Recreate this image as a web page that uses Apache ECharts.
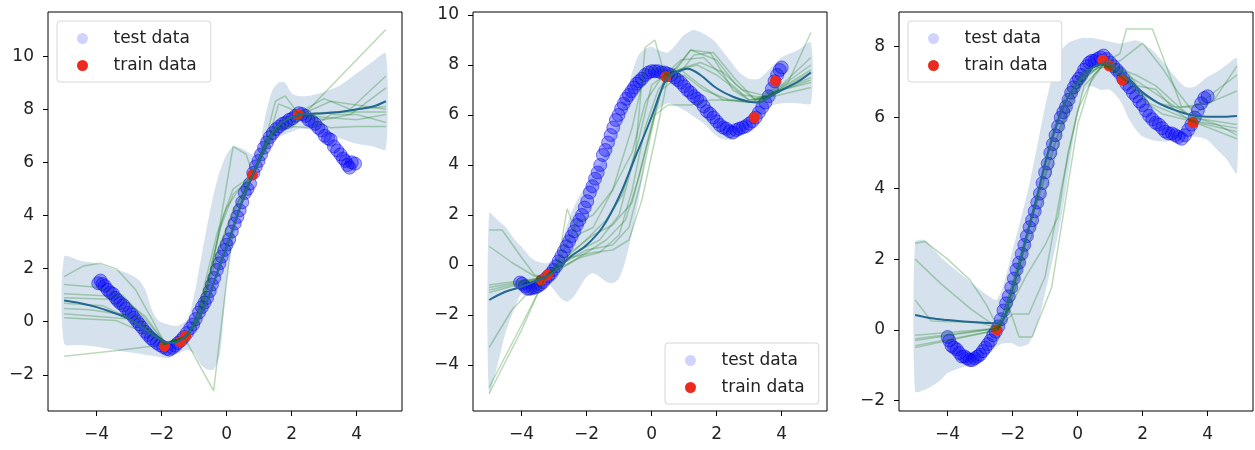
<!DOCTYPE html>
<html>
<head>
<meta charset="utf-8">
<script src="https://cdn.jsdelivr.net/npm/echarts@6/dist/echarts.min.js"></script>
<style>
html, body { margin: 0; padding: 0; background: #fff; }
#main { width: 1255px; height: 450px; }
</style>
</head>
<body>
<div id="main"></div>
<script>
// ---- panel 1 ----
var test1 = [[-3.95,1.45],[-3.88,1.55],[-3.82,1.42],[-3.75,1.35],[-3.66,1.2],[-3.58,1.1],[-3.5,1.05],[-3.42,0.9],[-3.35,0.8],[-3.27,0.7],[-3.18,0.62],[-3.1,0.5],[-3.0,0.35],[-2.92,0.28],[-2.85,0.15],[-2.76,0.02],[-2.68,-0.1],[-2.6,-0.22],[-2.5,-0.38],[-2.42,-0.5],[-2.33,-0.62],[-2.25,-0.7],[-2.15,-0.8],[-2.05,-0.88],[-1.95,-0.95],[-1.85,-1.02],[-1.76,-1.05],[-1.67,-0.98],[-1.58,-0.9],[-1.5,-0.8],[-1.4,-0.7],[-1.32,-0.58],[-1.22,-0.42],[-1.12,-0.25],[-1.03,-0.1],[-0.95,0.1],[-0.85,0.35],[-0.76,0.55],[-0.68,0.72],[-0.6,0.9],[-0.52,1.15],[-0.45,1.4],[-0.38,1.65],[-0.3,1.95],[-0.22,2.2],[-0.15,2.45],[-0.07,2.7],[0.0,2.9],[0.08,3.1],[0.16,3.4],[0.25,3.7],[0.33,3.95],[0.4,4.2],[0.48,4.5],[0.56,4.85],[0.64,5.0],[0.72,5.2],[0.82,5.6],[0.9,5.85],[0.98,6.05],[1.06,6.3],[1.15,6.55],[1.24,6.75],[1.33,6.95],[1.42,7.1],[1.52,7.25],[1.62,7.35],[1.72,7.45],[1.82,7.5],[1.92,7.6],[2.02,7.65],[2.12,7.75],[2.22,7.85],[2.32,7.82],[2.42,7.75],[2.52,7.6],[2.62,7.55],[2.72,7.45],[2.82,7.3],[2.92,7.2],[3.02,7.0],[3.12,6.9],[3.2,6.85],[3.3,6.6],[3.4,6.45],[3.5,6.3],[3.58,6.15],[3.66,6.05],[3.72,5.9],[3.78,5.8],[3.85,6.0],[3.95,5.95]];
var train1 = [[-1.91,-0.92],[-1.42,-0.75],[-1.26,-0.54],[0.79,5.52],[2.2,7.8]];
var bandX1 = [-5,-4.5,-4,-3.5,-3,-2.7,-2.5,-2.3,-2.1,-1.8,-1.5,-1.2,-1,-0.8,-0.6,-0.4,-0.2,0,0.2,0.5,0.8,1,1.2,1.4,1.6,1.8,2,2.2,2.5,3,3.5,4,4.5,4.9];
var upper1 = [2.45,2.3,2.2,2.0,1.8,1.57,1.2,0.45,0.05,-0.1,-0.15,0.1,1.0,2.3,3.6,4.8,5.7,6.3,6.6,6.5,6.3,6.6,7.8,8.7,9.0,9.0,8.6,8.5,8.5,8.65,8.9,9.35,9.8,10.1];
var lower1 = [-0.82,-0.88,-0.94,-1.05,-1.15,-1.2,-1.25,-1.28,-1.32,-1.38,-1.2,-1.05,-1.2,-1.6,-1.8,-1.8,-1.2,1.5,3.1,4.7,5.5,6.1,6.5,6.8,6.95,7.05,7.15,7.25,7.25,7.1,6.9,6.7,6.6,6.5];
var mean1 = [[-5,0.8],[-4.5,0.7],[-4,0.55],[-3.5,0.35],[-3,0.1],[-2.5,-0.3],[-2,-0.7],[-1.8,-0.8],[-1.5,-0.75],[-1.2,-0.45],[-1,-0.1],[-0.7,0.5],[-0.5,1.1],[-0.3,1.8],[0,2.8],[0.3,3.9],[0.5,4.6],[0.8,5.5],[1,6.1],[1.3,6.9],[1.6,7.4],[2,7.7],[2.3,7.8],[3,7.85],[3.5,7.9],[4,8.0],[4.5,8.1],[4.9,8.3]];
var samples1 = [
  [[-5,-1.3],[-3.5,-1.1],[-2.5,-0.95],[-1.9,-0.85],[-1.5,-0.7],[-1.2,-0.5],[-0.9,0.3],[-0.6,1.8],[-0.3,3.3],[0,4.3],[0.4,5.0],[0.8,5.5],[1.2,6.7],[1.6,7.4],[2.0,7.7],[2.3,7.8],[3,7.7],[4,7.6],[4.9,7.8]],
  [[-5,1.7],[-4.4,2.1],[-3.9,2.2],[-3.4,2.0],[-2.8,1.2],[-2.3,0.1],[-1.9,-0.8],[-1.5,-0.75],[-1.2,-0.5],[-0.8,0.3],[-0.4,2.0],[0,3.5],[0.4,4.6],[0.8,5.5],[1.1,6.4],[1.5,8.3],[1.8,8.5],[2.2,7.85],[3,8.4],[3.8,8.0],[4.9,9.25]],
  [[-5,1.4],[-4,1.3],[-3.2,1.0],[-2.5,0.1],[-1.9,-0.8],[-1.4,-0.65],[-1.1,-0.3],[-0.7,1.0],[-0.4,2.5],[-0.1,4.0],[0.2,5.0],[0.8,5.5],[1.2,6.5],[1.6,8.2],[2.0,8.0],[2.3,7.8],[3.2,7.3],[4,7.35],[4.9,7.35]],
  [[-5,1.05],[-3.3,0.95],[-2.5,0.2],[-1.9,-0.8],[-1.2,-0.55],[-0.8,0.2],[-0.5,1.8],[-0.2,3.5],[0.2,4.8],[0.8,5.5],[1.3,6.9],[1.8,7.6],[2.3,7.8],[3.0,7.6],[3.8,7.8],[4.9,8.8]],
  [[-5,0.9],[-3.6,0.85],[-2.6,0.0],[-1.9,-0.85],[-1.3,-0.6],[-0.4,-2.6],[-0.1,0.5],[0.2,3.5],[0.5,4.8],[0.8,5.5],[1.2,6.8],[1.7,7.6],[2.3,7.8],[3.2,7.9],[4.9,7.9]],
  [[-5,0.5],[-4.2,0.45],[-2.8,0.2],[-1.9,-0.8],[-1.3,-0.6],[-0.9,0.0],[-0.6,1.3],[-0.3,3.0],[0.2,6.6],[0.6,6.3],[0.8,5.6],[1.0,6.2],[1.4,7.2],[1.9,7.6],[2.3,7.8],[3.2,8.3],[4.9,8.0]],
  [[-5,0.3],[-3.0,0.1],[-1.9,-0.8],[-1.3,-0.6],[-0.9,0.0],[-0.5,1.1],[-0.2,2.1],[0.1,3.1],[0.5,4.6],[0.8,5.5],[1.1,6.3],[1.5,7.2],[2.0,7.5],[2.3,7.75],[4.9,8.1]],
  [[-5,0.15],[-3.4,0.05],[-2.4,-0.5],[-1.9,-0.85],[-1.3,-0.6],[-0.9,-0.1],[-0.5,1.0],[-0.2,2.3],[0.2,3.6],[0.6,4.8],[0.8,5.5],[1.2,6.5],[1.6,7.3],[2.0,7.35],[2.6,7.3],[3.2,7.8],[4.0,7.8],[4.9,7.5]],
  [[-5,0.7],[-3.8,0.6],[-2.6,-0.1],[-1.9,-0.85],[-1.3,-0.6],[-0.9,0.2],[-0.6,1.5],[-0.3,2.6],[0.2,4.2],[0.8,5.5],[1.2,6.8],[1.6,7.3],[2.0,7.3],[3.0,8.6],[4.9,11.0]]
];

// ---- panel 2 ----
var test2 = [[-4.05,-0.7],[-3.98,-0.75],[-3.9,-0.85],[-3.82,-0.95],[-3.74,-0.95],[-3.66,-0.92],[-3.58,-0.9],[-3.5,-0.85],[-3.42,-0.78],[-3.34,-0.68],[-3.26,-0.55],[-3.18,-0.45],[-3.1,-0.35],[-3.02,-0.2],[-2.94,-0.05],[-2.86,0.15],[-2.78,0.35],[-2.7,0.55],[-2.62,0.75],[-2.54,0.95],[-2.46,1.15],[-2.38,1.35],[-2.3,1.6],[-2.22,1.8],[-2.14,2.0],[-2.06,2.3],[-1.98,2.55],[-1.9,2.9],[-1.82,3.15],[-1.74,3.45],[-1.66,3.7],[-1.58,4.0],[-1.5,4.4],[-1.42,4.6],[-1.34,4.9],[-1.26,5.2],[-1.18,5.5],[-1.1,5.8],[-1.02,6.0],[-0.94,6.25],[-0.86,6.45],[-0.78,6.65],[-0.7,6.8],[-0.62,6.95],[-0.54,7.1],[-0.46,7.25],[-0.38,7.35],[-0.3,7.45],[-0.2,7.6],[-0.1,7.7],[0.0,7.75],[0.1,7.75],[0.2,7.75],[0.3,7.7],[0.4,7.7],[0.5,7.65],[0.6,7.6],[0.7,7.5],[0.8,7.4],[0.9,7.3],[1.0,7.15],[1.1,7.0],[1.2,6.9],[1.3,6.75],[1.4,6.65],[1.5,6.55],[1.6,6.35],[1.7,6.15],[1.8,6.05],[1.9,5.9],[2.0,5.75],[2.1,5.6],[2.2,5.5],[2.3,5.45],[2.4,5.35],[2.5,5.3],[2.6,5.4],[2.7,5.45],[2.8,5.5],[2.9,5.55],[3.0,5.65],[3.1,5.75],[3.2,5.9],[3.3,6.1],[3.4,6.3],[3.5,6.5],[3.6,6.75],[3.7,7.05],[3.78,7.35],[3.86,7.6],[3.94,7.8],[4.0,7.9]];
var train2 = [[-3.4,-0.6],[-3.2,-0.4],[0.44,7.53],[3.16,5.9],[3.81,7.36]];
var bandX2 = [-5,-4.7,-4.5,-4.2,-4,-3.7,-3.5,-3.2,-3,-2.8,-2.6,-2.4,-2.2,-2,-1.8,-1.6,-1.4,-1.2,-1,-0.8,-0.6,-0.4,-0.2,0,0.2,0.5,0.8,1,1.3,1.6,1.9,2.1,2.4,2.7,3,3.3,3.6,4,4.5,4.9];
var upper2 = [2.07,1.75,1.53,1.0,0.73,0.27,0.13,0.07,0.2,0.7,1.6,2.3,2.8,3.2,3.6,4.0,4.5,5.1,5.8,6.7,7.7,8.4,8.65,8.73,8.6,8.5,8.9,9.2,9.4,9.25,9.0,8.7,8.2,7.7,7.45,7.45,7.8,8.3,8.6,8.9];
var lower2 = [-5.1,-3.8,-2.73,-1.67,-1.13,-0.87,-0.8,-0.73,-1.0,-1.33,-1.47,-1.27,-0.87,-0.47,-0.33,-0.47,-0.67,-0.73,-0.53,0.2,1.27,2.6,4.2,5.53,6.2,6.47,6.33,6.2,5.93,5.67,5.27,5.07,5.0,5.13,5.53,5.93,6.33,6.47,6.47,6.47];
var mean2 = [[-5,-1.4],[-4.5,-1.07],[-4,-0.87],[-3.5,-0.6],[-3,-0.27],[-2.5,0.33],[-2,0.8],[-1.5,1.53],[-1,2.73],[-0.5,4.33],[0,5.93],[0.3,7.0],[0.5,7.5],[0.8,7.73],[1.1,7.85],[1.5,7.6],[2,7.07],[2.5,6.73],[3,6.53],[3.3,6.5],[3.6,6.7],[4,7.0],[4.5,7.33],[4.9,7.7]];
var samples2 = [
  [[-5,1.4],[-4.6,1.4],[-4.0,0.3],[-3.6,-0.4],[-3.3,-0.5],[-2.9,-0.1],[-2.6,2.25],[-2.3,1.2],[-1.8,1.5],[-1.2,3.0],[-0.6,5.5],[-0.2,7.8],[0.2,7.9],[0.5,7.6],[1.0,7.9],[1.5,8.1],[2.2,7.7],[2.8,7.0],[3.4,6.8],[4.0,7.2],[4.9,8.3]],
  [[-5,0.75],[-4.3,0.1],[-3.6,-0.45],[-3.3,-0.5],[-2.8,0.0],[-2.2,0.6],[-1.6,1.0],[-1.0,2.0],[-0.5,4.5],[-0.2,8.7],[0.1,9.0],[0.4,7.6],[0.8,7.9],[1.2,8.6],[1.8,8.5],[2.5,7.0],[3.0,6.6],[3.6,6.7],[4.2,7.3],[4.9,9.3]],
  [[-5,-0.8],[-3.3,-0.5],[-2.8,-0.1],[-2.2,0.3],[-1.6,0.5],[-1.0,1.2],[-0.6,3.0],[-0.2,5.5],[0.2,7.0],[0.5,7.5],[1.2,8.6],[2.0,8.2],[2.6,7.2],[3.2,6.6],[3.6,6.7],[4.9,7.1]],
  [[-5,-0.9],[-3.3,-0.5],[-2.7,0.1],[-2.0,0.6],[-1.2,0.8],[-0.7,1.5],[-0.3,3.5],[0.1,6.0],[0.5,6.4],[1.2,6.4],[1.8,6.6],[2.5,6.6],[3.2,6.5],[3.8,6.9],[4.9,7.5]],
  [[-5,-1.0],[-3.3,-0.5],[-2.6,0.4],[-1.8,1.2],[-1.2,1.6],[-0.6,2.5],[-0.2,4.5],[0.3,7.0],[0.7,7.4],[1.3,8.4],[1.9,8.5],[2.6,7.4],[3.2,6.6],[3.7,6.8],[4.9,7.7]],
  [[-5,-1.1],[-3.3,-0.5],[-2.7,0.2],[-2.1,0.9],[-1.4,1.8],[-0.9,2.8],[-0.4,5.0],[0,7.2],[0.4,7.6],[0.9,8.2],[1.6,8.3],[2.3,7.4],[3.0,6.6],[3.6,6.8],[4.9,8.0]],
  [[-5,-3.3],[-4.3,-1.8],[-3.5,-0.7],[-3.3,-0.5],[-2.6,0.0],[-2.0,0.5],[-1.4,1.0],[-0.8,1.8],[-0.4,3.5],[0,5.6],[0.4,7.5],[0.9,7.8],[1.5,7.2],[2.2,6.6],[3.0,6.5],[3.7,6.9],[4.9,7.3]],
  [[-5,-4.9],[-4.0,-2.4],[-3.3,-0.6],[-2.8,0.3],[-2.3,1.7],[-1.8,2.0],[-1.2,3.0],[-0.6,4.5],[-0.2,6.5],[0.3,7.5],[0.8,7.8],[1.4,8.0],[2.0,7.6],[2.8,6.8],[3.5,6.7],[4.9,7.8]],
  [[-5,-5.15],[-4.0,-2.6],[-3.3,-0.55],[-2.5,0.3],[-1.8,0.5],[-1.2,0.6],[-0.7,1.0],[-0.3,2.6],[0.1,5.0],[0.5,7.5],[1.0,7.6],[1.6,7.0],[2.4,6.6],[3.2,6.5],[3.8,6.9],[4.9,7.4]]
];

// ---- panel 3 ----
var test3 = [[-4.0,-0.2],[-3.95,-0.3],[-3.88,-0.45],[-3.8,-0.5],[-3.72,-0.55],[-3.64,-0.65],[-3.56,-0.75],[-3.48,-0.75],[-3.4,-0.8],[-3.32,-0.85],[-3.24,-0.85],[-3.16,-0.8],[-3.08,-0.75],[-3.0,-0.7],[-2.92,-0.6],[-2.84,-0.5],[-2.76,-0.4],[-2.68,-0.3],[-2.6,-0.15],[-2.52,-0.05],[-2.44,0.1],[-2.36,0.3],[-2.28,0.55],[-2.2,0.75],[-2.12,0.95],[-2.04,1.2],[-1.96,1.45],[-1.88,1.7],[-1.8,1.9],[-1.72,2.15],[-1.64,2.4],[-1.56,2.65],[-1.48,2.9],[-1.4,3.1],[-1.32,3.35],[-1.24,3.6],[-1.16,3.85],[-1.08,4.15],[-1.0,4.45],[-0.92,4.7],[-0.84,5.0],[-0.76,5.25],[-0.68,5.5],[-0.6,5.75],[-0.52,6.0],[-0.44,6.15],[-0.36,6.3],[-0.28,6.5],[-0.2,6.7],[-0.12,6.85],[-0.04,7.0],[0.04,7.1],[0.12,7.2],[0.2,7.35],[0.28,7.45],[0.36,7.55],[0.44,7.6],[0.52,7.6],[0.6,7.65],[0.7,7.7],[0.8,7.75],[0.9,7.65],[1.0,7.55],[1.1,7.45],[1.2,7.35],[1.3,7.25],[1.4,7.1],[1.5,6.95],[1.6,6.85],[1.7,6.7],[1.8,6.6],[1.9,6.45],[2.0,6.35],[2.1,6.2],[2.2,6.05],[2.3,5.95],[2.4,5.85],[2.5,5.8],[2.6,5.7],[2.7,5.6],[2.8,5.55],[2.9,5.55],[3.0,5.5],[3.1,5.45],[3.2,5.4],[3.3,5.5],[3.4,5.65],[3.5,5.8],[3.6,6.0],[3.7,6.2],[3.8,6.4],[3.9,6.55],[4.0,6.6]];
var train3 = [[-2.48,0.0],[0.77,7.62],[0.97,7.46],[1.37,7.06],[3.55,5.85]];
var bandX3 = [-5,-4.7,-4.5,-4.2,-4,-3.5,-3,-2.7,-2.5,-2.3,-2,-1.8,-1.5,-1.2,-1,-0.7,-0.5,-0.3,-0.1,0.1,0.3,0.5,0.7,1,1.3,1.6,1.8,2,2.3,2.7,3,3.3,3.6,4,4.3,4.6,4.9];
var upper3 = [2.49,2.54,2.35,2.05,1.88,1.51,1.13,0.94,0.85,1.22,2.26,2.95,4.05,5.4,6.31,7.44,7.9,8.1,8.18,8.24,8.24,8.24,8.2,8.14,8.09,8.15,8.18,8.09,7.9,7.5,7.15,6.87,6.87,7.15,7.3,7.5,7.67];
var lower3 = [-1.74,-1.69,-1.6,-1.41,-1.22,-1.04,-0.89,-0.66,-0.47,-0.38,-0.38,-0.47,-0.38,0.28,1.04,2.26,3.2,4.33,5.55,6.49,6.87,6.87,6.78,6.78,6.49,5.93,5.65,5.46,5.36,5.32,5.36,5.41,5.46,5.36,5.08,4.8,4.42];
var mean3 = [[-5,0.42],[-4.5,0.33],[-4,0.28],[-3.5,0.24],[-3,0.21],[-2.5,0.19],[-2.3,0.28],[-2.1,0.85],[-1.8,1.79],[-1.5,2.92],[-1.2,3.95],[-1,4.71],[-0.7,5.65],[-0.4,6.4],[0,6.96],[0.3,7.29],[0.6,7.48],[0.9,7.53],[1.2,7.39],[1.5,7.15],[1.8,6.87],[2.1,6.64],[2.5,6.4],[3,6.21],[3.5,6.07],[4,6.02],[4.5,6.02],[4.9,6.04]];
var samples3 = [
  [[-5,2.45],[-4.7,2.5],[-4.0,2.0],[-3.3,1.4],[-2.8,0.7],[-2.45,0.05],[-2.2,0.5],[-1.8,1.8],[-1.3,3.6],[-0.8,5.5],[-0.3,6.8],[0.2,7.3],[0.8,7.55],[1.3,7.8],[1.5,8.5],[2.3,8.5],[3.2,6.3],[4.0,6.4],[4.9,6.75]],
  [[-5,2.0],[-4.2,1.3],[-3.3,0.6],[-2.45,0.05],[-2.1,0.6],[-1.7,2.0],[-1.2,3.9],[-0.7,5.6],[-0.2,6.8],[0.3,7.4],[0.8,7.5],[1.3,7.6],[2.0,8.1],[2.6,7.4],[3.1,6.7],[3.6,6.1],[4.2,6.5],[4.9,7.45]],
  [[-5,0.85],[-4.5,0.25],[-3.0,0.2],[-2.45,0.05],[-2.0,0.45],[-1.5,0.45],[-1.0,1.5],[-0.5,4.0],[0,6.2],[0.5,7.2],[0.8,7.5],[1.2,7.4],[1.8,7.2],[2.4,6.9],[3.0,6.4],[3.5,6.0],[4.9,5.8]],
  [[-5,-0.15],[-2.45,0.05],[-2.1,0.6],[-1.8,-0.2],[-1.4,-0.2],[-0.8,1.2],[-0.4,3.5],[0,5.8],[0.4,7.0],[0.8,7.5],[1.4,7.1],[1.8,6.9],[2.4,6.8],[3.0,6.2],[3.5,5.9],[4.9,5.6]],
  [[-5,-0.25],[-2.45,0.05],[-2.0,1.3],[-1.6,2.6],[-1.1,4.0],[-0.6,5.5],[-0.1,6.7],[0.4,7.3],[0.8,7.5],[1.3,7.2],[1.9,6.7],[2.5,6.4],[3.0,6.3],[3.6,6.3],[4.9,7.2]],
  [[-5,-0.3],[-2.45,0.05],[-2.1,1.0],[-1.7,2.3],[-1.2,3.8],[-0.7,5.3],[-0.2,6.6],[0.3,7.2],[0.8,7.5],[1.2,7.3],[1.7,7.1],[2.2,6.8],[3.0,6.3],[3.6,6.0],[4.3,5.8],[4.9,5.5]],
  [[-5,-0.45],[-2.45,0.0],[-2.2,0.4],[-1.9,1.2],[-1.4,2.7],[-0.9,4.2],[-0.4,5.9],[0.1,7.0],[0.6,7.4],[1.0,7.45],[1.5,7.0],[2.0,6.5],[2.6,6.1],[3.5,5.9],[4.9,5.4]],
  [[-5,-0.5],[-2.45,0.0],[-2.1,0.6],[-1.6,1.5],[-1.0,2.4],[-0.6,3.2],[-0.3,5.0],[0.2,6.9],[0.7,7.4],[1.2,7.5],[1.6,7.2],[2.2,6.4],[3.0,6.1],[3.6,5.9],[4.9,5.7]]
];

var xTicks = [-4, -2, 0, 2, 4];
var yTicks1 = [-2, 0, 2, 4, 6, 8, 10];
var yTicks2 = [-4, -2, 0, 2, 4, 6, 8, 10];
var yTicks3 = [-2, 0, 2, 4, 6, 8];

var panels = [
  { test: test1, train: train1, bx: bandX1, up: upper1, lo: lower1, mean: mean1, samples: samples1, yTicks: yTicks1, yMin: -3.36, yMax: 11.66, left: 48, legend: { left: 57, top: 21 } },
  { test: test2, train: train2, bx: bandX2, up: upper2, lo: lower2, mean: mean2, samples: samples2, yTicks: yTicks2, yMin: -5.84, yMax: 10.12, left: 473, legend: { left: 665, top: 343 } },
  { test: test3, train: train3, bx: bandX3, up: upper3, lo: lower3, mean: mean3, samples: samples3, yTicks: yTicks3, yMin: -2.29, yMax: 8.98, left: 899, legend: { left: 908, top: 21 } }
];

var font = 'DejaVu Sans';
var fs = 17;
function fmt(v) { return v < 0 ? '\u2212' + Math.abs(v) : String(v); }

var grid = [], xAxis = [], yAxis = [], legend = [], series = [];

panels.forEach(function (p, i) {
  grid.push({ left: p.left, top: 12, width: 354, height: 399, show: true, borderColor: '#000', borderWidth: 1, backgroundColor: 'transparent' });
  xAxis.push({
    type: 'value', gridIndex: i, min: -5.495, max: 5.395,
    axisLine: { show: false, onZero: false }, splitLine: { show: false },
    axisTick: { show: true, length: 5, customValues: xTicks, lineStyle: { color: '#000' } },
    axisLabel: { customValues: xTicks, formatter: fmt, color: '#222', fontSize: fs, fontFamily: font, margin: 15 }
  });
  yAxis.push({
    type: 'value', gridIndex: i, min: p.yMin, max: p.yMax,
    axisLine: { show: false, onZero: false }, splitLine: { show: false },
    axisTick: { show: true, length: 5, customValues: p.yTicks, lineStyle: { color: '#000' } },
    axisLabel: { customValues: p.yTicks, formatter: fmt, color: '#222', fontSize: fs, fontFamily: font, margin: 14 }
  });
  legend.push({
    left: p.legend.left, top: p.legend.top, orient: 'vertical',
    data: [
      { name: 'test data', itemStyle: { color: 'rgba(0,0,255,0.22)', borderWidth: 0 } },
      { name: 'train data' }
    ],
    icon: 'circle', itemWidth: 40, itemHeight: 11, itemGap: 10,
    padding: [9, 14, 8, 20],
    backgroundColor: '#fff', borderColor: '#d6d6d6', borderWidth: 1, borderRadius: 3,
    textStyle: { fontSize: fs, fontFamily: font, color: '#222', padding: [0, 0, 0, 6] },
    selectedMode: false
  });

  // confidence band
  series.push({
    type: 'custom', xAxisIndex: i, yAxisIndex: i, z: 1, silent: true,
    data: [[p.bx[0], p.up[0]]],
    renderItem: function (params, api) {
      var pts = [];
      for (var k = 0; k < p.bx.length; k++) pts.push(api.coord([p.bx[k], p.up[k]]));
      for (var k2 = p.bx.length - 1; k2 >= 0; k2--) pts.push(api.coord([p.bx[k2], p.lo[k2]]));
      return { type: 'polygon', shape: { points: pts, smooth: 0.25 }, style: { fill: '#d5e2ed' } };
    }
  });
  series.push({
    name: 'test data', type: 'scatter', xAxisIndex: i, yAxisIndex: i, z: 2,
    data: p.test, symbolSize: 13,
    itemStyle: { color: 'rgba(0,0,255,0.42)', borderColor: 'rgba(0,0,230,0.6)', borderWidth: 1 }
  });
  series.push({
    name: 'train data', type: 'scatter', xAxisIndex: i, yAxisIndex: i, z: 3,
    data: p.train, symbolSize: 11,
    itemStyle: { color: '#ec2b20', opacity: 1 }
  });
  p.samples.forEach(function (s) {
    series.push({
      name: 'sample', type: 'line', xAxisIndex: i, yAxisIndex: i, z: 4,
      data: s, showSymbol: false, silent: true,
      lineStyle: { color: 'rgba(0,115,0,0.27)', width: 1.5 }
    });
  });
  series.push({
    name: 'mean', type: 'line', xAxisIndex: i, yAxisIndex: i, z: 5,
    data: p.mean, showSymbol: false, smooth: 0.35, silent: true,
    lineStyle: { color: '#226890', width: 2 }
  });
});

var chart = echarts.init(document.getElementById('main'), null, { renderer: 'canvas' });
chart.setOption({
  animation: false,
  backgroundColor: '#fff',
  grid: grid, xAxis: xAxis, yAxis: yAxis, legend: legend, series: series
});
</script>
</body>
</html>
